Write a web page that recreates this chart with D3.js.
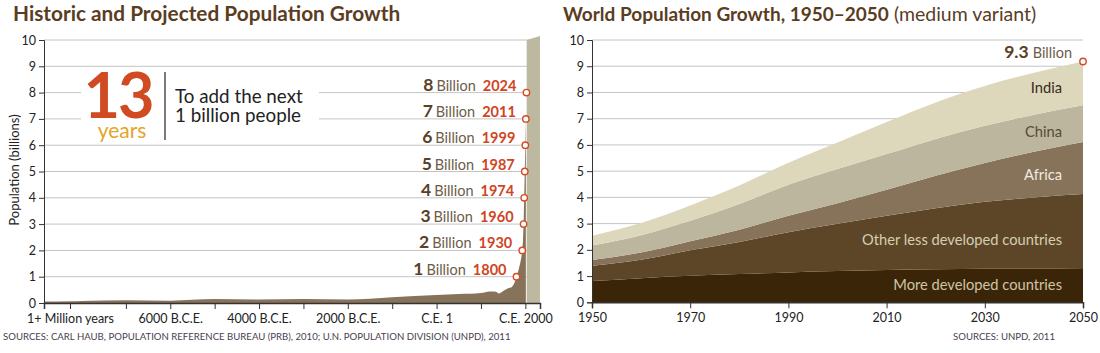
<!DOCTYPE html>
<html>
<head>
<meta charset="utf-8">
<script src="https://cdn.jsdelivr.net/npm/d3@7"></script>
<style>
  body { margin: 0; background: #fff; }
  svg text { font-family: Lato, "Open Sans", sans-serif; }
</style>
</head>
<body>
<svg id="chart" width="1100" height="353"></svg>
<script>
// left chart: historic population (billions)
var histYears = [-2000000, -1000000, -8000, -7000, -6000, -5000, -4000, -3000, -2000, -1000, 0, 500, 1000, 1200, 1340, 1400, 1500, 1600, 1700, 1750, 1800, 1850, 1900, 1930, 1950, 1960, 1974, 1987, 1999, 2011];
var histPop = [0.06, 0.07, 0.08, 0.10, 0.09, 0.15, 0.13, 0.15, 0.13, 0.22, 0.30, 0.34, 0.38, 0.44, 0.43, 0.36, 0.46, 0.55, 0.62, 0.75, 1.0, 1.27, 1.65, 2.0, 2.5, 3.0, 4.0, 5.0, 6.0, 7.0];
var projYears = [2030, 2330];
var projPop = [10.0, 10.15];
var milestoneBillions = [1, 2, 3, 4, 5, 6, 7, 8];
var milestoneYears = [1800, 1930, 1960, 1974, 1987, 1999, 2011, 2024];
var histTickYears = [-1000000, -7000, -6000, -5000, -4000, -3000, -2000, -1000, 0, 1000, 2000];
var histTickLabels = {"-1000000": "1+ Million years", "-6000": "6000 B.C.E.", "-4000": "4000 B.C.E.", "-2000": "2000 B.C.E.", "0": "C.E. 1", "2000": "C.E. 2000"};

// right chart: 1950-2050 by region (billions)
var years = [1950, 1960, 1970, 1980, 1990, 2000, 2010, 2020, 2030, 2040, 2050];
var moreDeveloped = [0.81, 0.92, 1.01, 1.08, 1.14, 1.19, 1.23, 1.26, 1.28, 1.28, 1.27];
var otherLess = [0.58, 0.70, 0.97, 1.22, 1.53, 1.80, 2.07, 2.33, 2.55, 2.72, 2.86];
var africa = [0.22, 0.28, 0.35, 0.47, 0.63, 0.79, 0.99, 1.23, 1.48, 1.74, 1.98];
var china = [0.56, 0.66, 0.78, 0.98, 1.18, 1.30, 1.36, 1.41, 1.42, 1.41, 1.40];
var india = [0.37, 0.46, 0.58, 0.70, 0.84, 1.01, 1.22, 1.39, 1.52, 1.60, 1.67];
var seriesNames = ["More developed countries", "Other less developed countries", "Africa", "China", "India"];
var yearTicks = [1950, 1970, 1990, 2010, 2030, 2050];

var svg = d3.select("#chart");
var titleColor = "#5a3d1f";
var axisColor = "#333";
var gridColor = "#c4c4c4";

// ---------- left chart ----------
var x1 = d3.scaleLinear()
    .domain([-2000000, -1000000, -8000, 2330])
    .range([44, 70, 81.5, 540]);
var y1 = d3.scaleLinear().domain([0, 10]).range([303, 40]);

svg.append("text")
    .attr("x", 13).attr("y", 21)
    .attr("font-size", 20.8).attr("font-weight", "bold")
    .attr("fill", titleColor)
    .text("Historic and Projected Population Growth");

var left = svg.append("g");
left.selectAll(".grid").data(d3.range(1, 11)).enter()
    .append("line")
    .attr("x1", 44).attr("x2", 540)
    .attr("y1", function(d){ return y1(d); })
    .attr("y2", function(d){ return y1(d); })
    .attr("stroke", gridColor).attr("stroke-width", 1);

// white box behind the "13 years" note
left.append("rect")
    .attr("x", 81).attr("y", 70).attr("width", 238).attr("height", 70)
    .attr("fill", "#fff");

var histPts = histYears.map(function(d, i){ return [d, histPop[i]]; });
var projPts = projYears.map(function(d, i){ return [d, projPop[i]]; });

left.append("path")
    .datum(projPts)
    .attr("fill", "#bdb8a0")
    .attr("d", d3.area()
        .x(function(d){ return x1(d[0]); })
        .y0(y1(0))
        .y1(function(d){ return y1(d[1]); }));

left.append("path")
    .datum(histPts)
    .attr("fill", "#86735a")
    .attr("d", d3.area()
        .curve(d3.curveMonotoneX)
        .x(function(d){ return x1(d[0]); })
        .y0(y1(0))
        .y1(function(d){ return y1(d[1]); }));

var yAxis1 = left.append("g")
    .attr("transform", "translate(44,0)")
    .call(d3.axisLeft(y1).ticks(10).tickSize(5).tickPadding(3));
var xAxis1 = left.append("g")
    .attr("transform", "translate(0,303)")
    .call(d3.axisBottom(x1).tickValues(histTickYears).tickSize(6).tickPadding(5)
        .tickFormat(function(d){ return histTickLabels[d] || ""; }));
[yAxis1, xAxis1].forEach(function(a){
    a.selectAll("path, line").attr("stroke", axisColor);
    a.selectAll("text").attr("fill", "#222").attr("font-size", 12.5)
        .style("font-family", "Lato, sans-serif");
});
xAxis1.select("path").attr("stroke-width", 1.5);

left.append("text")
    .attr("transform", "translate(19,170) rotate(-90)")
    .attr("text-anchor", "middle")
    .attr("font-size", 13).attr("fill", "#222")
    .text("Population (billions)");

// "13 years" note
left.append("text")
    .attr("x", 118).attr("y", 118)
    .attr("text-anchor", "middle")
    .attr("font-size", 63).attr("font-weight", "bold")
    .attr("fill", "#d04a22")
    .attr("letter-spacing", -2)
    .text("13");
left.append("text")
    .attr("x", 122).attr("y", 138)
    .attr("text-anchor", "middle")
    .attr("font-size", 21)
    .attr("fill", "#e3a42a")
    .text("years");
left.append("line")
    .attr("x1", 165).attr("x2", 165).attr("y1", 72).attr("y2", 140)
    .attr("stroke", "#222").attr("stroke-width", 1.2);
left.append("text")
    .attr("x", 175).attr("y", 103)
    .attr("font-size", 18.8).attr("fill", "#222")
    .text("To add the next");
left.append("text")
    .attr("x", 175).attr("y", 122)
    .attr("font-size", 18.8).attr("fill", "#222")
    .text("1 billion people");

// milestone labels
var ms = left.selectAll(".ms").data(milestoneBillions).enter().append("g");
ms.append("text")
    .attr("x", function(d, i){ return x1(milestoneYears[i]) - 10; })
    .attr("y", function(d){ return y1(d) - 2; })
    .attr("text-anchor", "end")
    .each(function(d, i){
        var t = d3.select(this);
        t.append("tspan").attr("font-size", 17.5).attr("font-weight", "bold")
            .attr("fill", "#5a4026").text(d);
        t.append("tspan").attr("font-size", 14.5).attr("fill", "#6e5c48")
            .attr("dx", 3).text("Billion");
        t.append("tspan").attr("font-size", 14.5).attr("font-weight", "bold")
            .attr("fill", "#d0451f").attr("dx", 7).text(milestoneYears[i]);
    });
ms.append("circle")
    .attr("cx", function(d, i){ return x1(milestoneYears[i]); })
    .attr("cy", function(d){ return y1(d); })
    .attr("r", 3.2)
    .attr("fill", "#fff").attr("stroke", "#d84a22").attr("stroke-width", 1.4);

svg.append("text")
    .attr("x", 3).attr("y", 340)
    .attr("font-size", 9.6).attr("fill", "#4a4050")
    .text("SOURCES: CARL HAUB, POPULATION REFERENCE BUREAU (PRB), 2010; U.N. POPULATION DIVISION (UNPD), 2011");

// ---------- right chart ----------
var x2 = d3.scaleLinear().domain([1950, 2050]).range([592, 1083]);
var y2 = d3.scaleLinear().domain([0, 10]).range([302.3, 40]);

var t2 = svg.append("text")
    .attr("x", 563).attr("y", 21)
    .attr("fill", titleColor);
t2.append("tspan").attr("font-size", 19).attr("font-weight", "bold")
    .text("World Population Growth, 1950\u20132050");
t2.append("tspan").attr("font-size", 19.5).attr("dx", 5)
    .text("(medium variant)");

var right = svg.append("g");
right.selectAll(".grid").data(d3.range(1, 11)).enter()
    .append("line")
    .attr("x1", 592).attr("x2", 1083)
    .attr("y1", function(d){ return y2(d); })
    .attr("y2", function(d){ return y2(d); })
    .attr("stroke", gridColor).attr("stroke-width", 1);

var table = years.map(function(yr, i){
    return {
        year: yr,
        "More developed countries": moreDeveloped[i],
        "Other less developed countries": otherLess[i],
        "Africa": africa[i],
        "China": china[i],
        "India": india[i]
    };
});
var stacked = d3.stack().keys(seriesNames)(table);
var colors = d3.scaleOrdinal().domain(seriesNames)
    .range(["#3b2508", "#5d4628", "#86735a", "#bbb69d", "#ddd8bc"]);

var area2 = d3.area()
    .curve(d3.curveMonotoneX)
    .x(function(d){ return x2(d.data.year); })
    .y0(function(d){ return y2(d[0]); })
    .y1(function(d){ return y2(d[1]); });

right.selectAll(".layer").data(stacked).enter()
    .append("path")
    .attr("fill", function(d){ return colors(d.key); })
    .attr("d", area2);

var yAxis2 = right.append("g")
    .attr("transform", "translate(592,0)")
    .call(d3.axisLeft(y2).ticks(10).tickSize(5).tickPadding(3));
var xAxis2 = right.append("g")
    .attr("transform", "translate(0,302.3)")
    .call(d3.axisBottom(x2).tickValues(yearTicks).tickFormat(d3.format("d")).tickSize(6).tickPadding(5));
[yAxis2, xAxis2].forEach(function(a){
    a.selectAll("path, line").attr("stroke", axisColor);
    a.selectAll("text").attr("fill", "#222").attr("font-size", 12.5)
        .style("font-family", "Lato, sans-serif");
});
xAxis2.select("path").attr("stroke-width", 1.5);

// layer labels at the right edge
var labelColors = {"More developed countries": "#cfc4a6", "Other less developed countries": "#d6cdb3",
    "Africa": "#f1ece0", "China": "#5a4a38", "India": "#3a2a1a"};
var labelBaselines = [290, 245, 180, 137, 93];
right.selectAll(".lbl").data(stacked).enter()
    .append("text")
    .attr("x", 1062)
    .attr("y", function(d, i){ return labelBaselines[i]; })
    .attr("text-anchor", "end")
    .attr("font-size", 14.7)
    .attr("fill", function(d){ return labelColors[d.key]; })
    .text(function(d){ return d.key; });

var last = years.length - 1;
var total2050 = stacked[stacked.length - 1][last][1];
right.append("circle")
    .attr("cx", x2(2050)).attr("cy", y2(total2050))
    .attr("r", 3.2)
    .attr("fill", "#fff").attr("stroke", "#d84a22").attr("stroke-width", 1.4);
var lab = right.append("text")
    .attr("x", 1072).attr("y", 58)
    .attr("text-anchor", "end");
lab.append("tspan").attr("font-size", 17.5).attr("font-weight", "bold").attr("fill", "#5a4026").text("9.3");
lab.append("tspan").attr("font-size", 14.5).attr("fill", "#6e5c48").attr("dx", 4).text("Billion");

svg.append("text")
    .attr("x", 1055).attr("y", 340)
    .attr("text-anchor", "end")
    .attr("font-size", 9.6).attr("fill", "#4a4050")
    .text("SOURCES: UNPD, 2011");
</script>
</body>
</html>
